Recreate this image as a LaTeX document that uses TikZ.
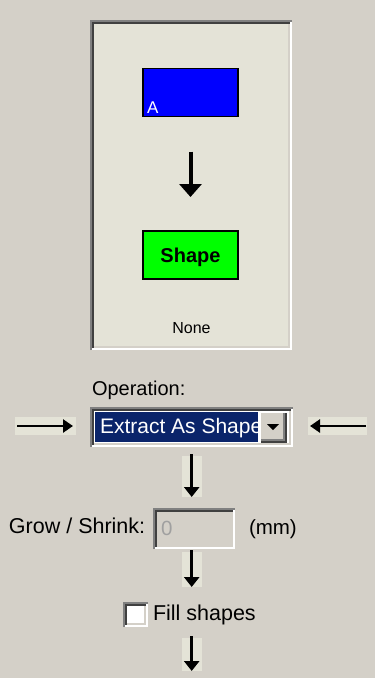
\documentclass[tikz,border=0pt]{standalone}
\usepackage{fontspec}
\setmainfont{Liberation Sans}
\usetikzlibrary{arrows.meta}

\definecolor{face}{HTML}{D4D0C8}
\definecolor{pane}{HTML}{E4E3D7}
\definecolor{shadowgray}{HTML}{808080}
\definecolor{darkgray}{HTML}{404040}
\definecolor{selblue}{HTML}{0A246A}
\definecolor{disabledtext}{HTML}{A0A0A0}

% Windows-style sunken bevel around a named node
\newcommand\sunkenframe[1]{%
  \draw[line width=2, white] ([shift={(0,-1)}]#1.south west) -- ([shift={(-1,-1)}]#1.south east) -- ([shift={(-1,0)}]#1.north east);
  \draw[line width=2, shadowgray] ([shift={(1,0)}]#1.south west) -- ([shift={(1,1)}]#1.north west) -- ([shift={(0,1)}]#1.north east);
  \draw[line width=2, face] ([shift={(2,-3)}]#1.south west) -- ([shift={(-3,-3)}]#1.south east) -- ([shift={(-3,2)}]#1.north east);
  \draw[line width=2, darkgray] ([shift={(3,-2)}]#1.south west) -- ([shift={(3,3)}]#1.north west) -- ([shift={(-2,3)}]#1.north east);
}
% raised bevel for the drop-down button
\newcommand\raisedframe[1]{%
  \draw[line width=2, darkgray] ([shift={(0,-1)}]#1.south west) -- ([shift={(-1,-1)}]#1.south east) -- ([shift={(-1,0)}]#1.north east);
  \draw[line width=2, white] ([shift={(1,0)}]#1.south west) -- ([shift={(1,1)}]#1.north west) -- ([shift={(0,1)}]#1.north east);
  \draw[line width=2, shadowgray] ([shift={(2,-3)}]#1.south west) -- ([shift={(-3,-3)}]#1.south east) -- ([shift={(-3,2)}]#1.north east);
}

\begin{document}
\begin{tikzpicture}[x=1pt, y=-1pt,
  every node/.style={inner sep=0pt, outer sep=0pt, font=\fontsize{20.5}{24}\selectfont},
  txt/.style={anchor=base west},
  strip/.style={fill=pane, minimum width=20},
  downflow/.style={line width=3, -{Triangle[width=15, length=10]}},
  sideflow/.style={line width=2.5, -{Triangle[width=13, length=10]}},
  swatch/.style={draw=black, line width=1.5, minimum width=95, minimum height=48}
]
\fill[face] (0,0) rectangle (375,678);
\useasboundingbox (0,0) rectangle (375,678);

% preview panel
\node[fill=pane, minimum width=202, minimum height=330] (preview) at (191,185) {};
\sunkenframe{preview}
\node[swatch, fill=blue] (src) at (190.5,92.5) {};
\node[txt, text=white, font=\fontsize{17}{20}\selectfont] (srclabel) at (147,113) {A};
\node[swatch, fill=green, text height=14.5, text depth=0, font=\fontsize{20}{24}\selectfont\bfseries] (shp) at (190.5,255) {Shape};
\draw[line width=4, -{Triangle[width=22, length=13]}, shorten <=35, shorten >=34] (src) -- (shp);
\node[anchor=base, font=\fontsize{16}{19}\selectfont] (none) at (191.5,333) {None};

% operation selector
\node[txt, font=\fontsize{20}{24}\selectfont] (oplabel) at (92,395) {Operation:};
\node[fill=white, minimum width=203, minimum height=40] (combo) at (191.5,427) {};
\sunkenframe{combo}
\node[fill=selblue, minimum width=163, minimum height=30] (sel) at (176.5,427) {};
\begin{scope}
  \clip (sel.north west) rectangle (sel.south east);
  \node[txt, text=white, font=\fontsize{21}{24}\selectfont] (seltext) at (100,433) {Extract As Shape};
\end{scope}
\node[fill=face, minimum width=28, minimum height=32] (dropbtn) at (273,427) {};
\raisedframe{dropbtn}
\fill ([shift={(-6,-3)}]dropbtn.center) -- ([shift={(6,-3)}]dropbtn.center) -- ([shift={(0,3)}]dropbtn.center) -- cycle;

% side inputs
\node[fill=pane, minimum width=61, minimum height=18] (inL) at (45.5,426) {};
\draw[sideflow] ([xshift=2]inL.west) -- ([xshift=-3]inL.east);
\node[fill=pane, minimum width=59, minimum height=18] (inR) at (337.5,426) {};
\draw[sideflow] ([xshift=-1]inR.east) -- ([xshift=2]inR.west);

% first step down
\node[strip, minimum height=41] (d1) at (191.7,476.5) {};
\draw[downflow] ([yshift=2]d1.north) -- (d1.south);

% grow / shrink
\node[txt, font=\fontsize{21.5}{24}\selectfont] (growlabel) at (9,533) {Grow / Shrink:};
\node[fill=face, minimum width=82, minimum height=41] (growbox) at (193.5,528.5) {};
\sunkenframe{growbox}
\node[txt, text=disabledtext] (growval) at (161,535) {0};
\node[txt] (unit) at (249,534) {(mm)};

% second step down
\node[strip, minimum height=35] (d2) at (191.7,569.5) {};
\draw[downflow] ([yshift=2]d2.north) -- (d2.south);

% fill option
\node[fill=white, minimum width=25, minimum height=25] (fillcheck) at (135.5,614.5) {};
\sunkenframe{fillcheck}
\node[txt, font=\fontsize{21.5}{24}\selectfont] (filllabel) at (153,620) {Fill shapes};

% third step down
\node[strip, minimum height=33] (d3) at (191.7,654.5) {};
\draw[downflow] ([yshift=2]d3.north) -- (d3.south);
\end{tikzpicture}
\end{document}
